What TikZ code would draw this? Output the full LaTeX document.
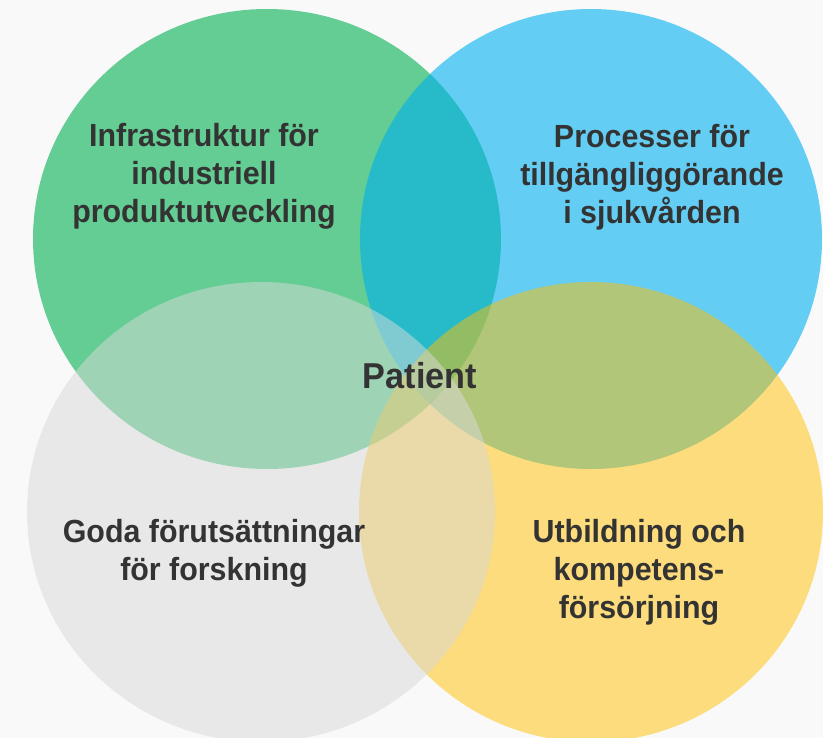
\documentclass[tikz,border=0pt]{standalone}
\usepackage{fontspec}
\newfontfamily\lblfont{Liberation Sans}[FakeStretch=0.95]
\definecolor{bgc}{HTML}{F9F9F9}
\definecolor{cgreen}{HTML}{00B050}
\definecolor{cblue}{HTML}{00B0F0}
\definecolor{cyellow}{HTML}{FFC000}
\definecolor{cgrey}{HTML}{D9D9D9}
\definecolor{txt}{HTML}{333333}
\tikzset{
  lbl/.style={align=center, text=txt, inner sep=0pt,
    font=\lblfont\bfseries\fontsize{32}{38}\selectfont},
  centerlbl/.style={lbl, font=\lblfont\bfseries\fontsize{36}{42}\selectfont},
  venn/.style={fill opacity=#1}
}
\begin{document}
\begin{tikzpicture}[x=1pt,y=-1pt]
\useasboundingbox (0,0) rectangle (823,738);
\clip (0,0) rectangle (823,738);
\fill[bgc] (0,0) rectangle (823,738);
% circles
\fill[cgreen, venn=0.6] (267,239) ellipse [x radius=234, y radius=230];
\fill[cblue, venn=0.6] (591,239) ellipse [x radius=231, y radius=230];
\fill[cyellow, venn=0.5] (591,512) ellipse [x radius=232, y radius=230];
\fill[cgrey, venn=0.5] (261,512) ellipse [x radius=234, y radius=230];
% labels
\node[lbl] (infra) at (204,176) {Infrastruktur för\\industriell\\produktutveckling};
\node[lbl] (proc) at (652,177) {Processer för\\tillgängliggörande\\i sjukvården};
\node[lbl] (goda) at (214,553.6) {Goda förutsättningar\\för forskning};
\node[lbl] (utb) at (639,572.4) {Utbildning och\\kompetens-\\försörjning};
\node[centerlbl] (patient) at (420,376) {Patient};
\end{tikzpicture}
\end{document}
